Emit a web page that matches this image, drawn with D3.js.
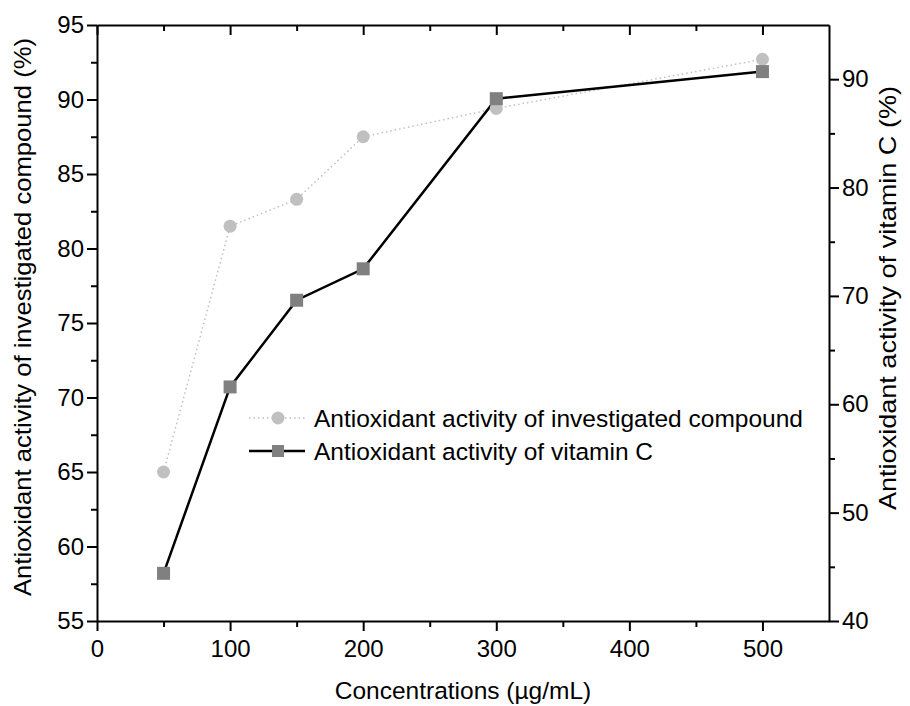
<!DOCTYPE html>
<html>
<head>
<meta charset="utf-8">
<script src="https://cdn.jsdelivr.net/npm/d3@7"></script>
<style>
  body { margin: 0; background: #fff; }
  text { font-family: "Liberation Sans", Arial, sans-serif; }
</style>
</head>
<body>
<svg width="910" height="706"></svg>
<script>
const concentrations = [50, 100, 150, 200, 300, 500];
const compound = [65.0, 81.5, 83.3, 87.5, 89.4, 92.7];
const vitaminC = [44.4, 61.6, 69.6, 72.5, 88.2, 90.7];
const xTicks = [0, 100, 200, 300, 400, 500];
const leftTicks = [55, 60, 65, 70, 75, 80, 85, 90, 95];
const rightTicks = [40, 50, 60, 70, 80, 90];
const legendLabels = ['Antioxidant activity of investigated compound', 'Antioxidant activity of vitamin C'];

const svg = d3.select('svg');
const pLeft = 97, pRight = 829, pTop = 25, pBottom = 621;
const fs = 24.5, tickFs = 24;

const x = d3.scaleLinear().domain([0, 550]).range([pLeft, pRight]);
const yL = d3.scaleLinear().domain([55, 95]).range([pBottom, pTop]);
const yR = d3.scaleLinear().domain([40, 95]).range([pBottom, pTop]);

function styleAxis(g) {
  g.selectAll('path').attr('stroke', '#000').attr('stroke-width', 2);
  g.selectAll('line').attr('stroke', '#000').attr('stroke-width', 2);
  g.selectAll('text').attr('font-size', tickFs).attr('fill', '#000');
}

// minor ticks first
svg.append('g').attr('transform', `translate(0,${pBottom})`)
  .call(d3.axisBottom(x).tickValues(d3.range(50, 550, 100)).tickSize(6).tickFormat(''))
  .call(styleAxis).select('path').remove();
svg.append('g').attr('transform', `translate(0,${pTop})`)
  .call(d3.axisBottom(x).tickValues(d3.range(50, 550, 100)).tickSize(6).tickFormat(''))
  .call(styleAxis).select('path').remove();
svg.append('g').attr('transform', `translate(${pLeft},0)`)
  .call(d3.axisLeft(yL).tickValues(d3.range(57.5, 95, 5)).tickSize(6).tickFormat(''))
  .call(styleAxis).select('path').remove();
svg.append('g').attr('transform', `translate(${pRight},0)`)
  .call(d3.axisRight(yR).tickValues(d3.range(45, 95, 10)).tickSize(6).tickFormat(''))
  .call(styleAxis).select('path').remove();

// top frame with inward ticks
svg.append('g').attr('transform', `translate(0,${pTop})`)
  .call(d3.axisBottom(x).tickValues(xTicks).tickSize(10).tickSizeOuter(0).tickFormat(''))
  .call(styleAxis);

// bottom axis
svg.append('g').attr('transform', `translate(0,${pBottom})`)
  .call(d3.axisBottom(x).tickValues(xTicks).tickSize(10).tickSizeOuter(0).tickPadding(9))
  .call(styleAxis);

svg.append('g').attr('transform', `translate(${pLeft},0)`)
  .call(d3.axisLeft(yL).tickValues(leftTicks).tickSize(10).tickSizeOuter(0).tickPadding(3))
  .call(styleAxis);

svg.append('g').attr('transform', `translate(${pRight},0)`)
  .call(d3.axisRight(yR).tickValues(rightTicks).tickSize(10).tickSizeOuter(0).tickPadding(3))
  .call(styleAxis);

// axis titles
svg.append('text').attr('x', 463).attr('y', 699)
  .attr('text-anchor', 'middle').attr('font-size', fs).text('Concentrations (µg/mL)');
svg.append('text').attr('transform', `translate(31,317) rotate(-90)`)
  .attr('text-anchor', 'middle').attr('font-size', fs)
  .attr('textLength', 558).attr('lengthAdjust', 'spacingAndGlyphs')
  .text('Antioxidant activity of investigated compound (%)');
svg.append('text').attr('transform', `translate(896,298) rotate(-90)`)
  .attr('text-anchor', 'middle').attr('font-size', fs)
  .attr('textLength', 424).attr('lengthAdjust', 'spacingAndGlyphs')
  .text('Antioxidant activity of vitamin C (%)');

// compound series (left axis)
const compData = concentrations.map((c, i) => [c, compound[i]]);
svg.append('path').datum(compData)
  .attr('fill', 'none').attr('stroke', '#c0c0c0').attr('stroke-width', 1.5)
  .attr('stroke-dasharray', '1.5,3')
  .attr('d', d3.line().x(d => x(d[0])).y(d => yL(d[1])));

// vitamin C series (right axis)
const vcData = concentrations.map((c, i) => [c, vitaminC[i]]);
svg.append('path').datum(vcData)
  .attr('fill', 'none').attr('stroke', '#000').attr('stroke-width', 2.5)
  .attr('d', d3.line().x(d => x(d[0])).y(d => yR(d[1])));

svg.selectAll('.circ').data(compData).enter().append('circle')
  .attr('cx', d => x(d[0])).attr('cy', d => yL(d[1])).attr('r', 6.5)
  .attr('fill', '#c0c0c0');

svg.selectAll('.sq').data(vcData).enter().append('rect')
  .attr('x', d => x(d[0]) - 6.5).attr('y', d => yR(d[1]) - 6.5)
  .attr('width', 13).attr('height', 13).attr('fill', '#808080');

// legend
const lg = svg.append('g').attr('transform', 'translate(249,418)');
lg.append('line').attr('x1', 0).attr('x2', 57).attr('y1', 0).attr('y2', 0)
  .attr('stroke', '#c0c0c0').attr('stroke-width', 1.5).attr('stroke-dasharray', '1.5,3');
lg.append('circle').attr('cx', 29).attr('cy', 0).attr('r', 6.5).attr('fill', '#c0c0c0');
lg.append('text').attr('x', 65).attr('y', 9).attr('font-size', fs).text(legendLabels[0]);

const lg2 = svg.append('g').attr('transform', 'translate(249,451)');
lg2.append('line').attr('x1', 0).attr('x2', 56).attr('y1', 0).attr('y2', 0)
  .attr('stroke', '#000').attr('stroke-width', 2.5);
lg2.append('rect').attr('x', 23).attr('y', -6).attr('width', 12).attr('height', 12).attr('fill', '#808080');
lg2.append('text').attr('x', 65).attr('y', 9).attr('font-size', fs).text(legendLabels[1]);
</script>
</body>
</html>
